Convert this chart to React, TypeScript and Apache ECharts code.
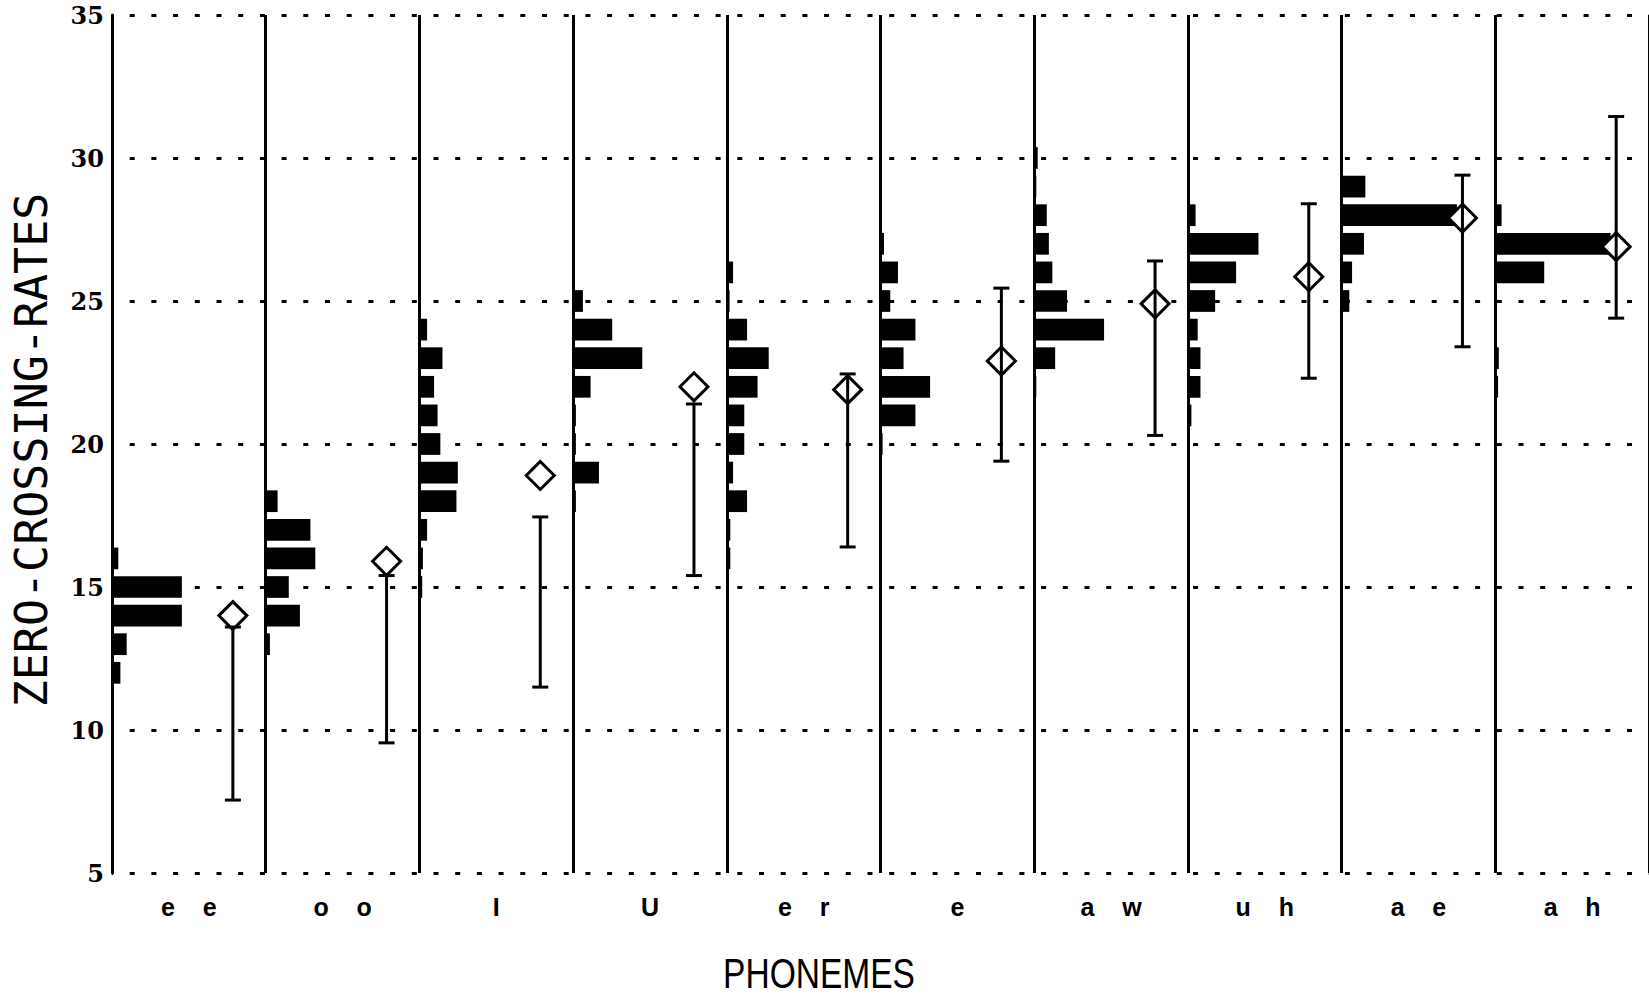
import React, { useEffect, useRef } from "react";
import * as echarts from "echarts";

// ---- data ----
const phonemeLabels = ["e e", "o o", "I", "U", "e r", "e", "a w", "u h", "a e", "a h"];

// histogram: zero-crossing-rate bins and their bar lengths (counts) per phoneme
const histRates: number[][] = [
  [16, 15, 14, 13, 12],
  [18, 17, 16, 15, 14, 13],
  [24, 23, 22, 21, 20, 19, 18, 17, 16, 15],
  [25, 24, 23, 22, 21, 20, 19, 18],
  [26, 25, 24, 23, 22, 21, 20, 19, 18, 17, 16],
  [27, 26, 25, 24, 23, 22, 21, 20],
  [30, 29, 28, 27, 26, 25, 24, 23, 22],
  [28, 27, 26, 25, 24, 23, 22, 21],
  [29, 28, 27, 26, 25],
  [28, 27, 26, 23, 22],
];
const histCounts: number[][] = [
  [0.9, 10, 10, 2.1, 1.2],
  [1.7, 6.4, 7.1, 3.3, 4.9, 0.6],
  [1.1, 3.3, 2.1, 2.6, 3, 5.5, 5.3, 1.1, 0.5, 0.4],
  [1.4, 5.6, 9.9, 2.5, 0.4, 0.4, 3.7, 0.4],
  [0.9, 0.4, 2.9, 6, 4.4, 2.5, 2.5, 0.9, 2.9, 0.5, 0.5],
  [0.5, 2.5, 1.4, 5, 3.3, 7.1, 5, 0.3],
  [0.5, 0.3, 1.8, 2.1, 2.6, 4.7, 10, 3, 0.3],
  [1.1, 10.1, 6.9, 3.9, 1.4, 1.8, 1.8, 0.5],
  [3.4, 16.5, 3.2, 1.5, 1.1],
  [0.9, 16.5, 7, 0.5, 0.4],
];

// mean (diamond) and error-bar ends
const means = [14, 15.9, 18.9, 22, 21.9, 22.9, 24.9, 25.85, 27.9, 26.9];
const errLow = [7.55, 9.55, 11.5, 15.4, 16.4, 19.4, 20.3, 22.3, 23.4, 24.4];
const errHigh = [13.6, 15.4, 17.45, 21.4, 22.45, 25.45, 26.4, 28.4, 29.4, 31.45];

const yMin = 5;
const yMax = 35;
const yStep = 5;

// ---- layout constants ----
const PANEL = 22; // x-units per phoneme panel
const DIAMOND_OFFSET = 17.3;
const BAR_HALF = 0.38;

export default function App() {
  const ref = useRef<HTMLDivElement>(null);

  useEffect(() => {
    document.body.style.margin = "0";
    if (!ref.current) return;
    const chart = echarts.init(ref.current, undefined, { renderer: "svg" });

    const histData: number[][] = [];
    histRates.forEach((rates, p) => {
      rates.forEach((r, i) => histData.push([p * PANEL, r, histCounts[p][i]]));
    });
    const meanData = means.map((m, p) => [p * PANEL + DIAMOND_OFFSET, m]);
    const errData = means.map((_, p) => [p * PANEL + DIAMOND_OFFSET, errLow[p], errHigh[p]]);

    const nb = "\u00A0";
    const spaced = (s: string) => s.split(" ").join(nb + nb + nb + nb);

    chart.setOption({
      animation: false,
      backgroundColor: "#fff",
      grid: { left: 112, top: 15, width: PANEL * 10 * 7, height: 858 },
      xAxis: [
        {
          type: "value",
          min: 0,
          max: PANEL * 10,
          interval: PANEL,
          axisLine: { show: false },
          axisTick: { show: false },
          axisLabel: { show: false },
          splitLine: { show: true, lineStyle: { color: "#000", width: 3, type: "solid" } },
        },
        {
          type: "category",
          data: phonemeLabels,
          position: "bottom",
          boundaryGap: true,
          axisLine: { show: false },
          axisTick: { show: false },
          splitLine: { show: false },
          axisLabel: {
            margin: 21,
            color: "#000",
            fontFamily: "Liberation Sans",
            fontWeight: "bold",
            fontSize: 25,
            formatter: (v: string) => spaced(v),
          },
        },
      ],
      yAxis: {
        type: "value",
        min: yMin,
        max: yMax,
        interval: yStep,
        axisLine: { show: true, lineStyle: { color: "#000", width: 3 } },
        axisTick: { show: false },
        axisLabel: {
          margin: 8,
          color: "#000",
          fontFamily: "DejaVu Serif",
          fontWeight: "bold",
          fontSize: 24,
        },
        splitLine: {
          show: true,
          lineStyle: { color: "#000", width: 3, type: [5, 16.7], dashOffset: 4 },
        },
      },
      graphic: [
        {
          type: "text",
          x: 31.5,
          y: 450,
          rotation: Math.PI / 2,
          style: {
            text: "ZERO-CROSSING-RATES",
            font: "45px 'DejaVu Sans Mono'",
            fill: "#000",
            align: "center",
            verticalAlign: "middle",
          },
        },
        {
          type: "text",
          x: 819,
          y: 973,
          scaleX: 0.78,
          style: {
            text: "PHONEMES",
            font: "43px 'Liberation Sans'",
            fill: "#000",
            align: "center",
            verticalAlign: "middle",
          },
        },
      ],
      series: [
        {
          type: "custom",
          xAxisIndex: 0,
          yAxisIndex: 0,
          z: 2,
          data: histData,
          encode: { x: 0, y: 1 },
          renderItem: (params: any, api: any) => {
            const x0 = api.value(0);
            const r = api.value(1);
            const c = api.value(2);
            const tl = api.coord([x0, r + BAR_HALF]);
            const br = api.coord([x0 + c, r - BAR_HALF]);
            return {
              type: "rect",
              shape: { x: tl[0], y: tl[1], width: br[0] - tl[0], height: br[1] - tl[1] },
              style: { fill: "#000" },
            };
          },
        },
        {
          type: "scatter",
          xAxisIndex: 0,
          yAxisIndex: 0,
          z: 3,
          symbol: "diamond",
          symbolSize: [28, 28],
          itemStyle: { color: "#fff", borderColor: "#000", borderWidth: 3, opacity: 1 },
          data: meanData,
        },
        {
          type: "custom",
          xAxisIndex: 0,
          yAxisIndex: 0,
          z: 4,
          data: errData,
          encode: { x: 0, y: [1, 2] },
          renderItem: (params: any, api: any) => {
            const cx = api.value(0);
            const lo = api.value(1);
            const hi = api.value(2);
            const a = api.coord([cx, hi]);
            const b = api.coord([cx, lo]);
            const style = { stroke: "#000", lineWidth: 3 };
            return {
              type: "group",
              children: [
                { type: "line", shape: { x1: a[0], y1: a[1], x2: b[0], y2: b[1] }, style },
                { type: "line", shape: { x1: a[0] - 8, y1: a[1], x2: a[0] + 8, y2: a[1] }, style },
                { type: "line", shape: { x1: b[0] - 8, y1: b[1], x2: b[0] + 8, y2: b[1] }, style },
              ],
            };
          },
        },
      ],
    });

    return () => chart.dispose();
  }, []);

  return <div ref={ref} style={{ width: 1649, height: 1000 }} />;
}
